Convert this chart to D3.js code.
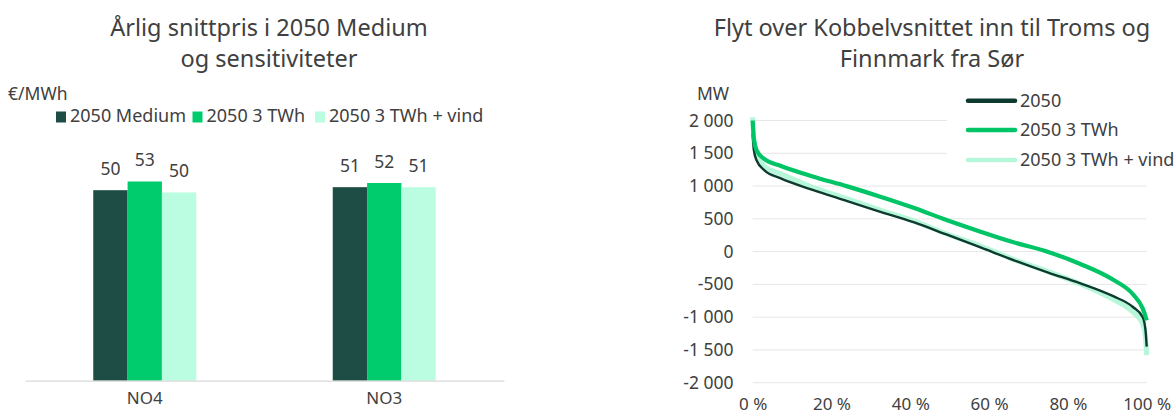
<!DOCTYPE html>
<html>
<head>
<meta charset="utf-8">
<script src="https://cdn.jsdelivr.net/npm/d3@7"></script>
<style>
  body { margin: 0; background: #fff; }
  svg { display: block; }
  text { font-family: "Noto Sans", sans-serif; }
</style>
</head>
<body>
<script>
// bar chart data
var regions = ['NO4', 'NO3']
var barSeries = ['2050 Medium', '2050 3 TWh', '2050 3 TWh + vind']
var priceMedium = [50.4, 51.2]
var price3TWh = [52.7, 52.3]
var price3TWhVind = [49.8, 51.2]

// duration curve data (share of hours in %, MW)
var pct = [0, 0.3, 1, 3, 7, 15, 24, 32, 41, 49, 58, 66, 75, 83, 91.5, 96.5, 99, 99.7, 100]
var flow2050 = [1800, 1550, 1390, 1240, 1120, 945, 770, 615, 445, 265, 60, -125, -320, -480, -680, -845, -1000, -1200, -1450]
var flow3TWh = [2000, 1720, 1545, 1410, 1310, 1150, 995, 845, 665, 485, 300, 145, -5, -185, -430, -650, -870, -990, -1050]
var flow3TWhVind = [2050, 1680, 1470, 1300, 1190, 985, 805, 640, 465, 275, 80, -115, -305, -490, -730, -920, -1100, -1320, -1580]
var lineSeries = ['2050', '2050 3 TWh', '2050 3 TWh + vind']
var yTicks = [2000, 1500, 1000, 500, 0, -500, -1000, -1500, -2000]
var xTicks = [0, 20, 40, 60, 80, 100]

var colDark = '#1e4d45'
var colGreen = '#00cc6e'
var colLight = '#bbfde0'
var lineDark = '#0d3b2f'
var lineGreen = '#00c466'
var lineLight = '#b6f7da'
var textCol = '#404040'

var width = 1176
var height = 417

var svg = d3.select('body')
  .append('svg')
  .attr('width', width)
  .attr('height', height)

var nb = d3.formatLocale({decimal: ',', thousands: ' ', grouping: [3], currency: ['', ''], minus: '-'})
var fmtMW = nb.format(',.0f')

makeBars()
makeCurves()

function makeBars() {
  var g = svg.append('g')

  g.append('text').attr('x', 269).attr('y', 36).attr('text-anchor', 'middle')
    .attr('font-size', 23.5).attr('fill', textCol).text('Årlig snittpris i 2050 Medium')
  g.append('text').attr('x', 269).attr('y', 67).attr('text-anchor', 'middle')
    .attr('font-size', 23.5).attr('fill', textCol).text('og sensitiviteter')

  g.append('text').attr('x', 8).attr('y', 100)
    .attr('font-size', 17.5).attr('fill', textCol).text('€/MWh')

  var cols = [colDark, colGreen, colLight]
  var legX = [56, 192.5, 315]
  barSeries.forEach(function(s, i) {
    g.append('rect').attr('x', legX[i]).attr('y', 111.5).attr('width', 10).attr('height', 11).attr('fill', cols[i])
    g.append('text').attr('x', legX[i] + 14).attr('y', 122.3)
      .attr('font-size', 18).attr('fill', textCol).text(s)
  })

  var x0 = d3.scaleBand().domain(regions).range([25, 504])
  var x1 = d3.scaleBand().domain(barSeries).range([0, 103])
  var y = d3.scaleLinear().domain([0, 60]).range([380.7, 380.7 - 60 * 3.78])

  var values = [priceMedium, price3TWh, price3TWhVind]
  var data = []
  regions.forEach(function(r, ri) {
    barSeries.forEach(function(s, si) {
      data.push({region: r, series: s, value: values[si][ri], color: cols[si]})
    })
  })

  var off = (x0.bandwidth() - x1.range()[1]) / 2
  g.selectAll('rect.bar')
    .data(data)
    .enter()
    .append('rect')
    .attr('class', 'bar')
    .attr('x', d => x0(d.region) + off + x1(d.series))
    .attr('width', x1.bandwidth())
    .attr('y', d => y(d.value))
    .attr('height', d => y(0) - y(d.value))
    .attr('fill', d => d.color)

  g.selectAll('text.val')
    .data(data)
    .enter()
    .append('text')
    .attr('class', 'val')
    .attr('x', d => x0(d.region) + off + x1(d.series) + x1.bandwidth() / 2)
    .attr('y', d => y(d.value) - 15)
    .attr('text-anchor', 'middle')
    .attr('font-size', 17.5)
    .attr('fill', textCol)
    .text(d => d3.format('.0f')(d.value))

  var ax = g.append('g').attr('transform', 'translate(0,380.7)')
    .call(d3.axisBottom(x0).tickSize(0).tickPadding(11))
  ax.select('.domain').attr('stroke', '#d9d9d9').attr('stroke-width', 1.2)
  ax.selectAll('text').attr('font-size', 17).attr('fill', textCol)
    .attr('font-family', '"Noto Sans", sans-serif')
}

function makeCurves() {
  var g = svg.append('g')

  g.append('text').attr('x', 932).attr('y', 36).attr('text-anchor', 'middle')
    .attr('font-size', 23.5).attr('fill', textCol).text('Flyt over Kobbelvsnittet inn til Troms og')
  g.append('text').attr('x', 932).attr('y', 67).attr('text-anchor', 'middle')
    .attr('font-size', 23.5).attr('fill', textCol).text('Finnmark fra Sør')

  var x = d3.scaleLinear().domain([0, 100]).range([752.7, 1146.7])
  var y = d3.scaleLinear().domain([-2000, 2000]).range([382.7, 120.5])

  g.append('g').selectAll('line')
    .data(yTicks)
    .enter()
    .append('line')
    .attr('x1', x(0)).attr('x2', x(100))
    .attr('y1', d => y(d)).attr('y2', d => y(d))
    .attr('stroke', '#e6e6e6')
    .attr('stroke-width', 1)

  var ya = g.append('g').attr('transform', 'translate(733.5,0)')
    .call(d3.axisLeft(y).tickValues(yTicks).tickSize(0).tickPadding(0).tickFormat(fmtMW))
  ya.select('.domain').remove()
  ya.selectAll('text').attr('font-size', 17.5).attr('fill', textCol)
    .attr('font-family', '"Noto Sans", sans-serif')

  var xa = g.append('g').attr('transform', 'translate(0,' + (y(-2000) + 15.5) + ')')
    .call(d3.axisBottom(x).tickValues(xTicks).tickSize(0).tickPadding(0).tickFormat(d => d + ' %'))
  xa.select('.domain').remove()
  xa.selectAll('text').attr('font-size', 17).attr('fill', textCol)
    .attr('font-family', '"Noto Sans", sans-serif')

  g.append('text').attr('x', 713).attr('y', 99.5).attr('text-anchor', 'middle')
    .attr('font-size', 17.5).attr('fill', textCol).text('MW')

  // legend background hides the grid behind it
  g.append('rect').attr('x', 947).attr('y', 86).attr('width', 229).attr('height', 88).attr('fill', '#fff')

  var line = d3.line()
    .x(d => x(d.p))
    .y(d => y(d.v))
    .curve(d3.curveMonotoneX)

  function pts(arr) {
    return pct.map(function(p, i) { return {p: p, v: arr[i]} })
  }

  g.append('path').attr('d', line(pts(flow3TWhVind)))
    .attr('fill', 'none').attr('stroke', lineLight).attr('stroke-width', 5)
  g.append('path').attr('d', line(pts(flow2050)))
    .attr('fill', 'none').attr('stroke', lineDark).attr('stroke-width', 2.4)
  g.append('path').attr('d', line(pts(flow3TWh)))
    .attr('fill', 'none').attr('stroke', lineGreen).attr('stroke-width', 4.2)

  var lcols = [lineDark, lineGreen, lineLight]
  var legY = [100.7, 130, 160]
  lineSeries.forEach(function(s, i) {
    g.append('line').attr('x1', 968).attr('x2', 1015).attr('y1', legY[i]).attr('y2', legY[i])
      .attr('stroke', lcols[i]).attr('stroke-width', 4.5).attr('stroke-linecap', 'round')
    g.append('text').attr('x', 1020).attr('y', legY[i] + 6)
      .attr('font-size', 18).attr('fill', textCol).text(s)
  })
}
</script>
</body>
</html>
